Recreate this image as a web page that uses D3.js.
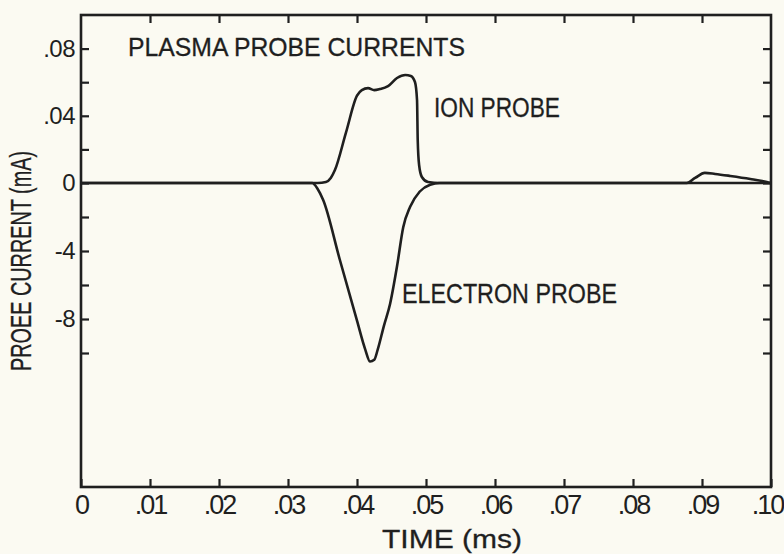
<!DOCTYPE html>
<html>
<script src="https://d3js.org/d3.v7.min.js"></script>
<style>
    body {
        margin: 0;
        background: #fbfaf2;
    }

    .domain {
        display: none;
    }

    .tick line {
        stroke: #1f1f1f;
        stroke-width: 2.2px;
    }

    .tick text {
        fill: #1f1f1f;
        font-family: "Liberation Sans", sans-serif;
    }

    .xlab .tick text {
        font-size: 27px;
        letter-spacing: -2px;
    }

    .ylab .tick text {
        font-size: 24px;
        letter-spacing: -0.5px;
    }

    .note {
        fill: #1f1f1f;
        stroke: #1f1f1f;
        stroke-width: 0.3px;
        font-family: "Liberation Sans", sans-serif;
    }
</style>

<body>
</body>
<script>
    // data
    const timeTicks = [0, 0.01, 0.02, 0.03, 0.04, 0.05, 0.06, 0.07, 0.08, 0.09, 0.10];
    const timeTickLabels = ["0", ".01", ".02", ".03", ".04", ".05", ".06", ".07", ".08", ".09", ".10"];
    const currentTicks = [0.08, 0.06, 0.04, 0.02, 0, -2, -4, -6, -8, -10];
    const currentTickLabels = [".08", "", ".04", "", "0", "", "-4", "", "-8", ""];

    const ionTime = [0, 0.0343, 0.0355, 0.0362, 0.0368, 0.0384, 0.0400, 0.0407, 0.0416, 0.0425, 0.0433,
        0.0445, 0.0458, 0.0470, 0.0478, 0.0484, 0.0487, 0.0488, 0.0490, 0.0494, 0.0503, 0.0520,
        0.0878, 0.0890, 0.0904, 0.0919, 0.0941, 0.0970, 0.0994, 0.1
    ];
    const ionCurrent = [0, 0, 0.0006, 0.003, 0.0077, 0.030, 0.052, 0.0553, 0.0565, 0.0553, 0.0559,
        0.0577, 0.0625, 0.0643, 0.0637, 0.0601, 0.0494, 0.0256, 0.0107, 0.0036, 0.0006, 0,
        0, 0.003, 0.006, 0.0054, 0.0042, 0.0024, 0.0006, 0
    ];

    const electronTime = [0, 0.0335, 0.0343, 0.0351, 0.0375, 0.0400, 0.0412, 0.0419, 0.0425, 0.0430,
        0.0439, 0.0448, 0.0458, 0.0467, 0.0477, 0.0491, 0.0506, 0.0520, 0.1
    ];
    const electronCurrent = [0, 0, -0.35, -1.0, -4.5, -8.1, -9.8, -10.5, -10.4, -9.8,
        -8.4, -7.1, -4.9, -2.6, -1.4, -0.5, -0.1, 0, 0
    ];

    const width = 784,
        height = 554;
    const plotLeft = 81,
        plotRight = 771,
        plotTop = 15,
        plotBottom = 487,
        zeroY = 183;

    const svg = d3.select("body").append("svg").attr("width", width).attr("height", height);

    const x = d3.scaleLinear()
        .domain([0, 0.1])
        .range([plotLeft, plotRight]);
    // the positive half is in .02 mA steps, the negative half in 2 unit steps
    const y = d3.scaleLinear()
        .domain([-(plotBottom - zeroY) / 17, 0, 0.1])
        .range([plotBottom, zeroY, plotTop]);

    // frame
    svg.append("rect")
        .attr("x", plotLeft)
        .attr("y", plotTop)
        .attr("width", plotRight - plotLeft)
        .attr("height", plotBottom - plotTop)
        .attr("fill", "none")
        .attr("stroke", "#1f1f1f")
        .attr("stroke-width", 2.6);

    const xAxis = svg.append("g")
        .attr("class", "xlab")
        .attr("transform", `translate(0,${plotBottom})`)
        .call(d3.axisBottom(x).tickValues(timeTicks)
            .tickFormat((d, i) => timeTickLabels[i])
            .tickSizeInner(-8).tickSizeOuter(0).tickPadding(8));
    // last label sits against the page edge
    xAxis.selectAll(".tick text").filter(d => d === 0.10).attr("dx", -4);

    svg.append("g")
        .attr("transform", `translate(0,${plotTop})`)
        .call(d3.axisTop(x).tickValues(timeTicks.slice(1, -1))
            .tickFormat("").tickSizeInner(-8).tickSizeOuter(0));

    svg.append("g")
        .attr("class", "ylab")
        .attr("transform", `translate(${plotLeft},0)`)
        .call(d3.axisLeft(y).tickValues(currentTicks)
            .tickFormat((d, i) => currentTickLabels[i])
            .tickSizeInner(-8).tickSizeOuter(0).tickPadding(6));
    svg.append("g")
        .attr("transform", `translate(${plotRight},0)`)
        .call(d3.axisRight(y).tickValues(currentTicks)
            .tickFormat("").tickSizeInner(-8).tickSizeOuter(0));

    const line = d3.line()
        .x(d => x(d[0]))
        .y(d => y(d[1]))
        .curve(d3.curveMonotoneX);

    svg.append("path")
        .datum(d3.zip(electronTime, electronCurrent))
        .attr("fill", "none")
        .attr("stroke", "#1f1f1f")
        .attr("stroke-width", 2.6)
        .attr("d", line);
    svg.append("path")
        .datum(d3.zip(ionTime, ionCurrent))
        .attr("fill", "none")
        .attr("stroke", "#1f1f1f")
        .attr("stroke-width", 2.6)
        .attr("d", line);

    svg.append("text")
        .attr("class", "note")
        .attr("x", 128).attr("y", 56)
        .attr("font-size", 26)
        .attr("textLength", 337).attr("lengthAdjust", "spacingAndGlyphs")
        .text("PLASMA PROBE CURRENTS");
    svg.append("text")
        .attr("class", "note")
        .attr("x", 434).attr("y", 117)
        .attr("font-size", 27)
        .attr("textLength", 126).attr("lengthAdjust", "spacingAndGlyphs")
        .text("ION PROBE");
    svg.append("text")
        .attr("class", "note")
        .attr("x", 402).attr("y", 303)
        .attr("font-size", 28)
        .attr("textLength", 215).attr("lengthAdjust", "spacingAndGlyphs")
        .text("ELECTRON PROBE");
    svg.append("text")
        .attr("class", "note")
        .attr("x", 382).attr("y", 548)
        .attr("font-size", 26)
        .attr("textLength", 140).attr("lengthAdjust", "spacingAndGlyphs")
        .text("TIME (ms)");
    svg.append("text")
        .attr("class", "note")
        .attr("text-anchor", "middle")
        .attr("transform", "translate(31,261)rotate(-90)")
        .attr("font-size", 29)
        .attr("textLength", 220).attr("lengthAdjust", "spacingAndGlyphs")
        .text("PROEE CURRENT (mA)");
</script>

</html>
